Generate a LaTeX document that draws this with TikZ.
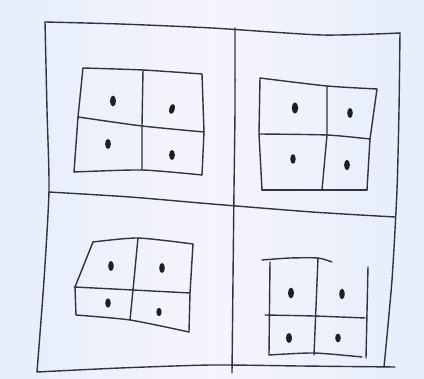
\documentclass[tikz,border=0pt]{standalone}
\definecolor{paper}{RGB}{246,244,252}
\definecolor{paperblue}{RGB}{228,238,250}
\definecolor{ink}{RGB}{50,50,68}
\tikzset{
  pen/.style={draw=ink, line width=1.4pt, line cap=round, line join=round},
  dotmark/.style={fill=black!88},
}
\begin{document}
\begin{tikzpicture}[x=1pt,y=-1pt]
\useasboundingbox (0,0) rectangle (424,379);
\shade[left color=paperblue, right color=paperblue, middle color=paper] (0,0) rectangle (424,379);
% outer frame
\draw[pen] plot[smooth, tension=0.4] coordinates {(45,22) (120,24) (212,28) (322,35) (400,33)};
\draw[pen] plot[smooth, tension=0.4] coordinates {(400,33) (399,110) (397,190) (392,280) (384,367)};
\draw[pen] plot[smooth, tension=0.4] coordinates {(37,372) (120,368) (212,365) (300,366) (395,367)};
\draw[pen] plot[smooth, tension=0.4] coordinates {(45,22) (47,110) (49,190) (44,280) (37,372)};
% dividers
\draw[pen] plot[smooth, tension=0.4] coordinates {(235,28) (235,110) (234,190) (233,280) (232,373)};
\draw[pen] plot[smooth, tension=0.4] coordinates {(49,192) (130,197) (212,204) (312,212) (395,217)};
% top-left grid
\draw[pen] plot[smooth, tension=0.4] coordinates {(83,68) (143,70) (202,74)};
\draw[pen] plot[smooth, tension=0.4] coordinates {(78,117) (142,126) (204,132)};
\draw[pen] plot[smooth, tension=0.4] coordinates {(74,172) (142,170) (202,175)};
\draw[pen] (83,68) -- (78,117) -- (74,172);
\draw[pen] (143,70) -- (142,126) -- (142,170);
\draw[pen] (202,74) -- (204,132) -- (202,175);
\fill[dotmark] (113,101) ellipse [x radius=3.0, y radius=5.4];
\fill[dotmark, rotate around={-15:(172,109)}] (172,109) ellipse [x radius=2.8, y radius=5.0];
\fill[dotmark] (108,144) ellipse [x radius=2.9, y radius=5.0];
\fill[dotmark] (172,155) ellipse [x radius=2.9, y radius=5.0];
% top-right grid
\draw[pen] plot[smooth, tension=0.4] coordinates {(260,78) (327,86) (377,89)};
\draw[pen] plot[smooth, tension=0.4] coordinates {(259,134) (327,135) (370,139)};
\draw[pen] plot[smooth, tension=0.4] coordinates {(262,190) (322,190) (367,190)};
\draw[pen] (260,78) -- (259,134) -- (262,190);
\draw[pen] (327,86) -- (327,135) -- (322,190);
\draw[pen] (377,89) -- (370,139) -- (367,190);
\fill[dotmark] (295,108) ellipse [x radius=3.2, y radius=5.6];
\fill[dotmark] (350,113) ellipse [x radius=2.8, y radius=5.0];
\fill[dotmark] (293,159) ellipse [x radius=2.7, y radius=4.8];
\fill[dotmark] (347,165) ellipse [x radius=2.9, y radius=5.2];
% bottom-left grid
\draw[pen] plot[smooth, tension=0.4] coordinates {(93,242) (138,238) (193,244)};
\draw[pen] plot[smooth, tension=0.4] coordinates {(74,287) (133,290) (190,293)};
\draw[pen] plot[smooth, tension=0.4] coordinates {(76,315) (130,320) (189,332)};
\draw[pen] (93,242) -- (75,287) -- (76,315);
\draw[pen] (138,238) -- (133,290) -- (130,320);
\draw[pen] (193,244) -- (190,293) -- (189,332);
\fill[dotmark] (111,266) ellipse [x radius=2.8, y radius=5.0];
\fill[dotmark] (162,268) ellipse [x radius=2.8, y radius=5.0];
\fill[dotmark] (108,303) ellipse [x radius=2.8, y radius=4.6];
\fill[dotmark] (159,312) ellipse [x radius=2.6, y radius=4.2];
% bottom-right grid
\draw[pen] plot[smooth, tension=0.4] coordinates {(262,260) (290,258) (318,258) (332,262)};
\draw[pen] plot[smooth, tension=0.4] coordinates {(265,315) (314,316) (365,318)};
\draw[pen] plot[smooth, tension=0.4] coordinates {(269,355) (314,353) (362,357)};
\draw[pen] (270,262) -- (269,355);
\draw[pen] (318,258) -- (314,355);
\draw[pen] (368,267) -- (366,358);
\fill[dotmark] (291,293) ellipse [x radius=3.0, y radius=5.4];
\fill[dotmark] (342,294) ellipse [x radius=2.8, y radius=5.2];
\fill[dotmark] (289,338) ellipse [x radius=3.0, y radius=5.0];
\fill[dotmark] (338,338) ellipse [x radius=2.8, y radius=4.4];
\end{tikzpicture}
\end{document}
